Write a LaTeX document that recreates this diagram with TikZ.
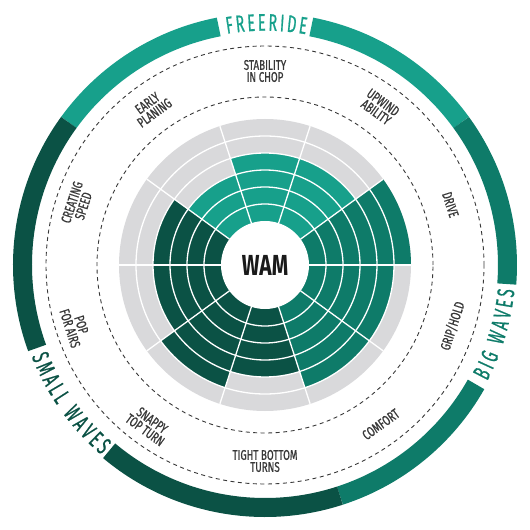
\documentclass[tikz,border=0pt]{standalone}
\usepackage{fontspec}
\usetikzlibrary{decorations.text}
\newfontfamily\labfont[FakeStretch=0.7,FakeBold=0.8]{Fira Sans}
\newfontfamily\bandfont[FakeStretch=0.6,FakeBold=0.7]{Fira Sans}
\newfontfamily\wamfont[FakeStretch=0.72]{Fira Sans}
\definecolor{cTeal}{HTML}{17A08B}
\definecolor{cMid}{HTML}{0E7B69}
\definecolor{cDark}{HTML}{0B5245}
\definecolor{cGray}{HTML}{D9D9DB}
\definecolor{cText}{HTML}{383838}
\definecolor{cWam}{HTML}{1A1A1A}
\begin{document}
\begin{tikzpicture}[x=1pt,y=1pt,
  lab/.style={font=\labfont\fontsize{14}{12}\selectfont, text=cText, align=center, inner sep=0pt},
  band/.style={line width=19pt, line cap=butt},
  sep/.style={white, line width=1.3pt},
  dashcircle/.style={cText, line width=0.9pt, dash pattern=on 4pt off 3.5pt}]
\useasboundingbox (-265,-265) rectangle (265,265);
% radar
\fill[cGray] (0,0) circle[radius=146];
\foreach \a/\v/\col in {90/4/cTeal, 54/4/cTeal, 126/3/cTeal, 18/6/cMid, -18/5/cMid, -54/5/cMid, -90/4/cDark, -126/5/cDark, -162/4/cDark, 162/4/cDark} {
  \pgfmathsetmacro\rr{44+17*\v}
  \pgfmathsetmacro\aa{\a-18}
  \pgfmathsetmacro\ab{\a+18}
  \fill[\col] (0,0) -- (\aa:\rr) arc[start angle=\aa, end angle=\ab, radius=\rr] -- cycle;
}
\fill[white] (0,0) circle[radius=44];
\foreach \k in {1,...,5} {
  \pgfmathsetmacro\rk{44+17*\k}
  \draw[sep] (0,0) circle[radius=\rk];
}
\foreach \a in {0,36,...,324} \draw[sep] (\a:44) -- (\a:146);
\node[text=cWam, font=\wamfont\bfseries\fontsize{29}{29}\selectfont] (wam) at (0,0) {WAM};
% dashed circles
\draw[dashcircle] (0,0) circle[radius=168];
\draw[dashcircle] (0,0) circle[radius=219];
% labels
\node[lab, rotate=0]   (stab) at (90:194)  {STABILITY\\IN CHOP};
\node[lab, rotate=-36] (upw)  at (54:195)  {UPWIND\\ABILITY};
\node[lab, rotate=-72] (drv)  at (18:195)  {DRIVE};
\node[lab, rotate=36]  (erl)  at (126:194) {EARLY\\PLANING};
\node[lab, rotate=72]  (crs)  at (162:197) {CREATING\\SPEED};
\node[lab, rotate=72]  (grp)  at (-18:197) {GRIP/HOLD};
\node[lab, rotate=36]  (cmf)  at (-54:197) {COMFORT};
\node[lab, rotate=0]   (tbt)  at (-90:196) {TIGHT BOTTOM\\TURNS};
\node[lab, rotate=-36] (snp)  at (-126:198) {SNAPPY\\TOP TURN};
\node[lab, rotate=-72] (pop)  at (-162:199) {POP\\FOR AIRS};
% outer bands
\draw[band, cTeal] (144:242.5) arc[start angle=144, end angle=101, radius=242.5];
\draw[band, cTeal] (79:242.5) arc[start angle=79, end angle=36, radius=242.5];
\draw[band, cMid] (36:242.5) arc[start angle=36, end angle=-4.5, radius=242.5];
\draw[band, cMid] (-29.5:242.5) arc[start angle=-29.5, end angle=-72, radius=242.5];
\draw[band, cDark] (-72:242.5) arc[start angle=-72, end angle=-130, radius=242.5];
\draw[band, cDark] (-160:242.5) arc[start angle=-160, end angle=-216, radius=242.5];
% band texts
\path[decorate, decoration={text along path, text align=center, raise=-8.2pt,
  text={|\bandfont\fontsize{24}{24}\selectfont\color{cTeal}\kern2.9pt|FREERIDE}}]
  (115:242.5) arc[start angle=115, end angle=65, radius=242.5];
\path[decorate, decoration={text along path, text align=center, raise=-8.2pt,
  text={|\bandfont\fontsize{24}{24}\selectfont\color{cMid}\kern2.9pt|BIG WAVES}}]
  (-45:242.5) arc[start angle=-45, end angle=11, radius=242.5];
\path[decorate, decoration={text along path, text align=center, raise=-8.2pt,
  text={|\bandfont\fontsize{24}{24}\selectfont\color{cDark}\kern2.9pt|SMALL WAVES}}]
  (182:242.5) arc[start angle=182, end angle=248, radius=242.5];
\end{tikzpicture}
\end{document}
